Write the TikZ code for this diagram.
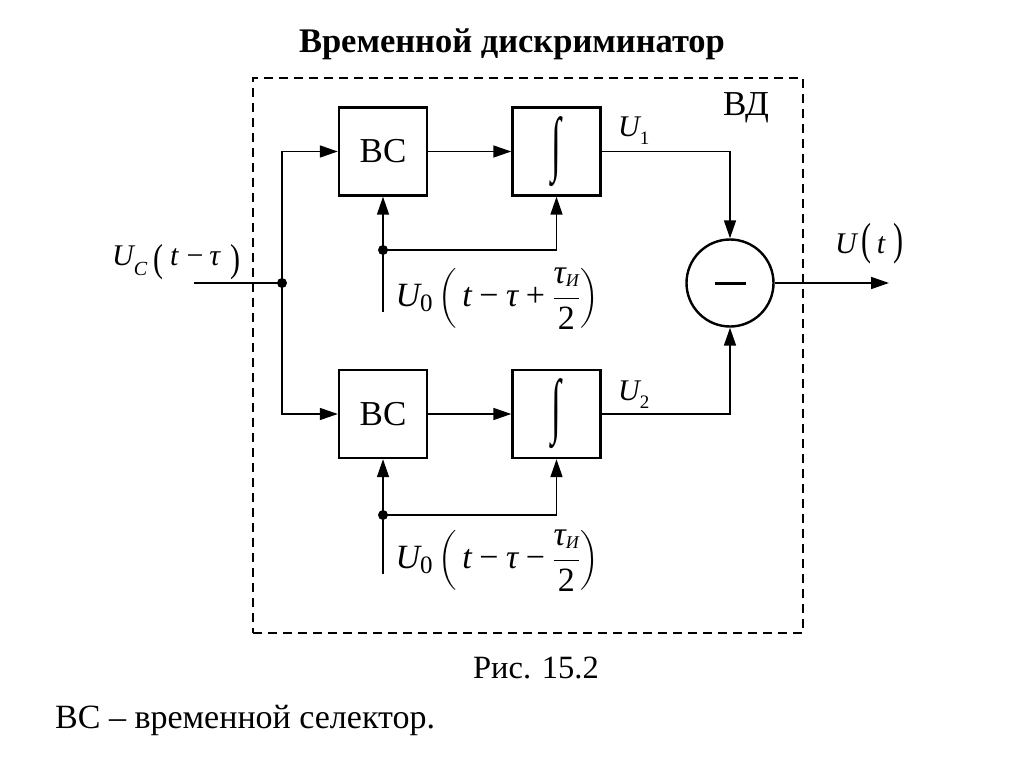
\documentclass[tikz,border=0pt]{standalone}
\usepackage{fix-cm}
\usepackage{fontspec}
\setmainfont{Liberation Serif}
\usepackage{amsmath}
\usepackage{graphicx}
\usetikzlibrary{arrows.meta}
\newcommand\vi[1]{\text{\itshape #1}}
\newcommand\lsub[3]{\text{\raisebox{-#1}{\fontsize{#2}{#2}\selectfont #3}}}
\newcommand\tsub[3]{\raisebox{-#1}{\fontsize{#2}{#2}\selectfont #3}}
\newcommand\bpar[3]{\raisebox{#2}{\scalebox{1}[#1]{#3}}}
\newcommand\mminus{\mathbin{\text{−}}}
\newcommand\mplus{\mathbin{\text{+}}}
\newcommand\intsign{\scalebox{1.05}[2.1]{\fontsize{34}{34}\selectfont ∫}}
\begin{document}
\begin{tikzpicture}[x=1pt,y=-1pt,
  blk/.style={draw,line width=2.4pt,minimum width=88pt,minimum height=88pt,inner sep=0pt,font=\fontsize{35}{40}\selectfont},
  wire/.style={line width=1.6pt},
  arr/.style={wire,-{Triangle[length=18pt,width=12pt]}},
  dot/.style={circle,fill,inner sep=0pt,minimum size=10pt},
  lbl/.style={font=\fontsize{30}{30}\selectfont,inner sep=0pt,anchor=base west},
  big/.style={font=\fontsize{34}{34}\selectfont,inner sep=0pt}
]
\useasboundingbox (0,0) rectangle (1024,767);
\node[font=\bfseries\fontsize{34.5}{38}\selectfont,inner sep=0pt] (title) at (512,44) {Временной дискриминатор};
\node[draw,dashed,dash pattern=on 9pt off 6pt,line width=1.4pt,minimum width=550pt,minimum height=555pt,inner sep=0pt] (frame) at (528,355.5) {};
\node[font=\fontsize{35}{40}\selectfont,inner sep=0pt] (vd) at (746,108) {ВД};
\node[blk] (bc1) at (383,151.5) {ВС};
\node[blk] (int1) at (556.5,151.5) {\intsign};
\node[blk] (bc2) at (383,414) {ВС};
\node[blk] (int2) at (556.5,414) {\intsign};
\node[circle,draw,line width=2.4pt,minimum size=87pt,inner sep=0pt] (sub) at (730,283) {\rule{31pt}{3pt}};
\coordinate (in) at (194,283);
\node[dot] (j) at (282,283) {};
\coordinate (out) at (889,283);
\draw[wire] (in) -- (j.center);
\draw[arr] (j.center) |- (bc1.west);
\draw[arr] (j.center) |- (bc2.west);
\draw[arr] (bc1) -- (int1);
\draw[arr] (bc2) -- (int2);
\draw[arr] (int1.east) -| (sub.north);
\draw[arr] (int2.east) -| (sub.south);
\draw[arr] (sub.east) -- (out);
\coordinate (r1) at (383,312);
\node[dot] (d1) at (383,250) {};
\draw[arr] (r1) -- (bc1.south);
\draw[arr] (d1.center) -| (int1.south);
\coordinate (r2) at (383,574);
\node[dot] (d2) at (383,515) {};
\draw[arr] (r2) -- (bc2.south);
\draw[arr] (d2.center) -| (int2.south);
\node[lbl] (uc) at (112,265) {\itshape U\tsub{10pt}{20}{C}\hspace{6pt}\bpar{1.3}{-6pt}{\upshape(}\hspace{7pt}t\hspace{8pt}{\upshape−}\hspace{6pt}τ\hspace{10pt}\bpar{1.3}{-6pt}{\upshape)}};
\node[lbl] (u1) at (618,137) {\itshape U\tsub{8pt}{19}{\upshape 1}};
\node[lbl] (u2) at (618,400) {\itshape U\tsub{8pt}{19}{\upshape 2}};
\node[lbl] (ut) at (835,253) {\itshape U\hspace{5pt}\bpar{1.5}{-1pt}{\upshape(}\hspace{5pt}t\hspace{8pt}\bpar{1.5}{-1pt}{\upshape)}};
\node[big] (l1) at (497,299) {$\displaystyle\vi{U}\lsub{5pt}{25}{0}\left(\,\vi{t}\mminus\vi{τ}\mplus\frac{\vi{τ}\lsub{3pt}{18}{\itshape И}}{\mathrm{2}}\right)$};
\node[big] (l2) at (497,561) {$\displaystyle\vi{U}\lsub{5pt}{25}{0}\left(\,\vi{t}\mminus\vi{τ}\mminus\frac{\vi{τ}\lsub{3pt}{18}{\itshape И}}{\mathrm{2}}\right)$};
\node[font=\fontsize{32.5}{36}\selectfont,inner sep=0pt] (cap) at (536,668) {Рис. 15.2};
\node[font=\fontsize{34}{36}\selectfont,inner sep=0pt,anchor=west] (note) at (55,720) {ВС – временной селектор.};
\end{tikzpicture}
\end{document}
